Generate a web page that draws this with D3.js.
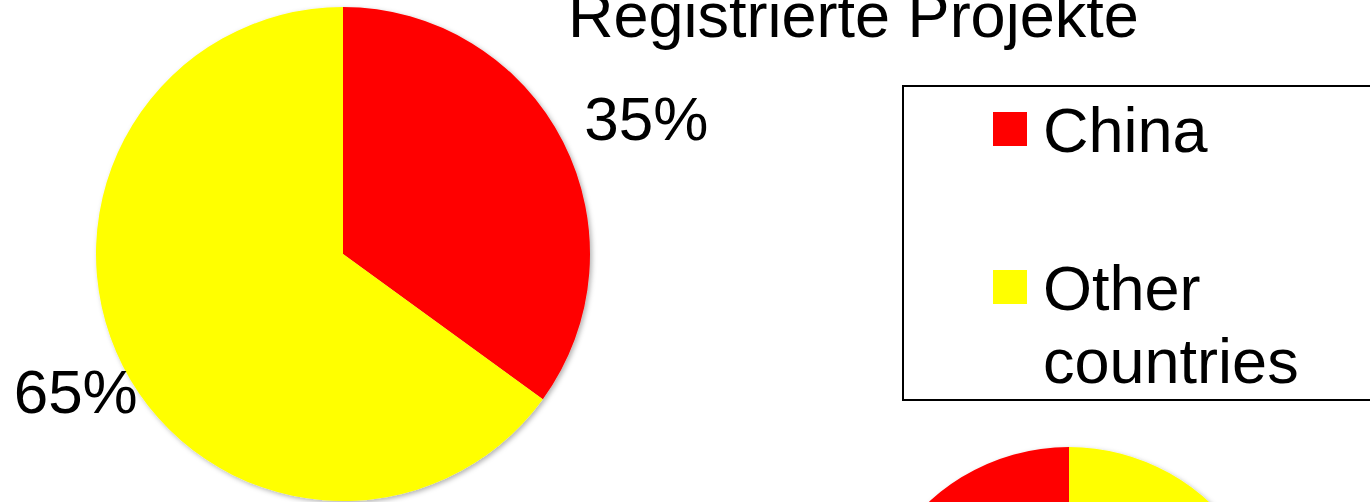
<!DOCTYPE html>
<html>
<head>
<meta charset="utf-8">
<script src="https://cdn.jsdelivr.net/npm/d3@7"></script>
<style>
  html, body { margin: 0; padding: 0; background: #fff; overflow: hidden; }
  text { font-family: "Liberation Sans", Arial, sans-serif; fill: #000; }
</style>
</head>
<body>
<svg width="1370" height="502"></svg>
<script>
// chart data
var categories = ["China", "Other countries"];
var shares = [35, 65];
var colors = ["#ff0000", "#ffff00"];
var title = "Registrierte Projekte";

// second (cropped) pie below the legend, same shares, other slice drawn first
var smallOrder = ["Other countries", "China"];

var svg = d3.select("svg"),
    width = +svg.attr("width"),
    height = +svg.attr("height");

var color = d3.scaleOrdinal()
    .domain(categories)
    .range(colors);

var data = categories.map(function(c, i) { return { name: c, value: shares[i] }; });

// soft drop shadow like the office chart
var defs = svg.append("defs");
var f = defs.append("filter")
    .attr("id", "shadow")
    .attr("x", "-10%").attr("y", "-10%")
    .attr("width", "120%").attr("height", "120%");
f.append("feDropShadow")
    .attr("dx", 2).attr("dy", 2)
    .attr("stdDeviation", 2.5)
    .attr("flood-color", "#000")
    .attr("flood-opacity", 0.3);

var pie = d3.pie()
    .sort(null)
    .value(function(d) { return d.value; });

// main pie
var r = 247;
var arc = d3.arc().innerRadius(0).outerRadius(r);
var labelArc = d3.arc().innerRadius(300).outerRadius(300);

var g = svg.append("g")
    .attr("transform", "translate(343,254)");

g.append("g")
    .attr("filter", "url(#shadow)")
  .selectAll("path")
  .data(pie(data))
  .enter().append("path")
    .attr("d", arc)
    .attr("fill", function(d) { return color(d.data.name); });

g.selectAll("text.lbl")
  .data(pie(data))
  .enter().append("text")
    .attr("class", "lbl")
    .attr("transform", function(d) {
      var c = labelArc.centroid(d);
      // right hand labels sit a bit further out
      if (c[0] > 0) c[0] += 36;
      return "translate(" + c + ")";
    })
    .attr("text-anchor", "middle")
    .attr("dy", "0.36em")
    .attr("font-size", 62)
    .text(function(d) { return d.data.value + "%"; });

// title
svg.append("text")
    .attr("x", 568)
    .attr("y", 37)
    .attr("font-size", 63)
    .text(title);

// legend
var legend = svg.append("g");

legend.append("rect")
    .attr("x", 903)
    .attr("y", 86)
    .attr("width", 520)
    .attr("height", 314)
    .attr("fill", "none")
    .attr("stroke", "#000")
    .attr("stroke-width", 2);

var ly = d3.scalePoint()
    .domain(categories)
    .range([129, 287]);

var item = legend.selectAll("g.item")
  .data(categories)
  .enter().append("g")
    .attr("class", "item")
    .attr("transform", function(d) { return "translate(993," + ly(d) + ")"; });

item.append("rect")
    .attr("x", 0)
    .attr("y", -17)
    .attr("width", 34)
    .attr("height", 34)
    .attr("fill", function(d) { return color(d); });

item.append("text")
    .attr("x", 50)
    .attr("y", 23)
    .attr("font-size", 63)
    .selectAll("tspan")
    .data(function(d) { return d.split(" "); })
    .enter().append("tspan")
      .attr("x", 50)
      .attr("dy", function(d, i) { return i ? 73 : 0; })
      .text(function(d) { return d; });

// small pie, mostly off screen
var smallData = smallOrder.map(function(c) {
  return { name: c, value: shares[categories.indexOf(c)] };
});
var smallArc = d3.arc().innerRadius(0).outerRadius(206);

svg.append("g")
    .attr("transform", "translate(1069,653)")
    .attr("filter", "url(#shadow)")
  .selectAll("path")
  .data(pie(smallData))
  .enter().append("path")
    .attr("d", smallArc)
    .attr("fill", function(d) { return color(d.data.name); });
</script>
</body>
</html>
